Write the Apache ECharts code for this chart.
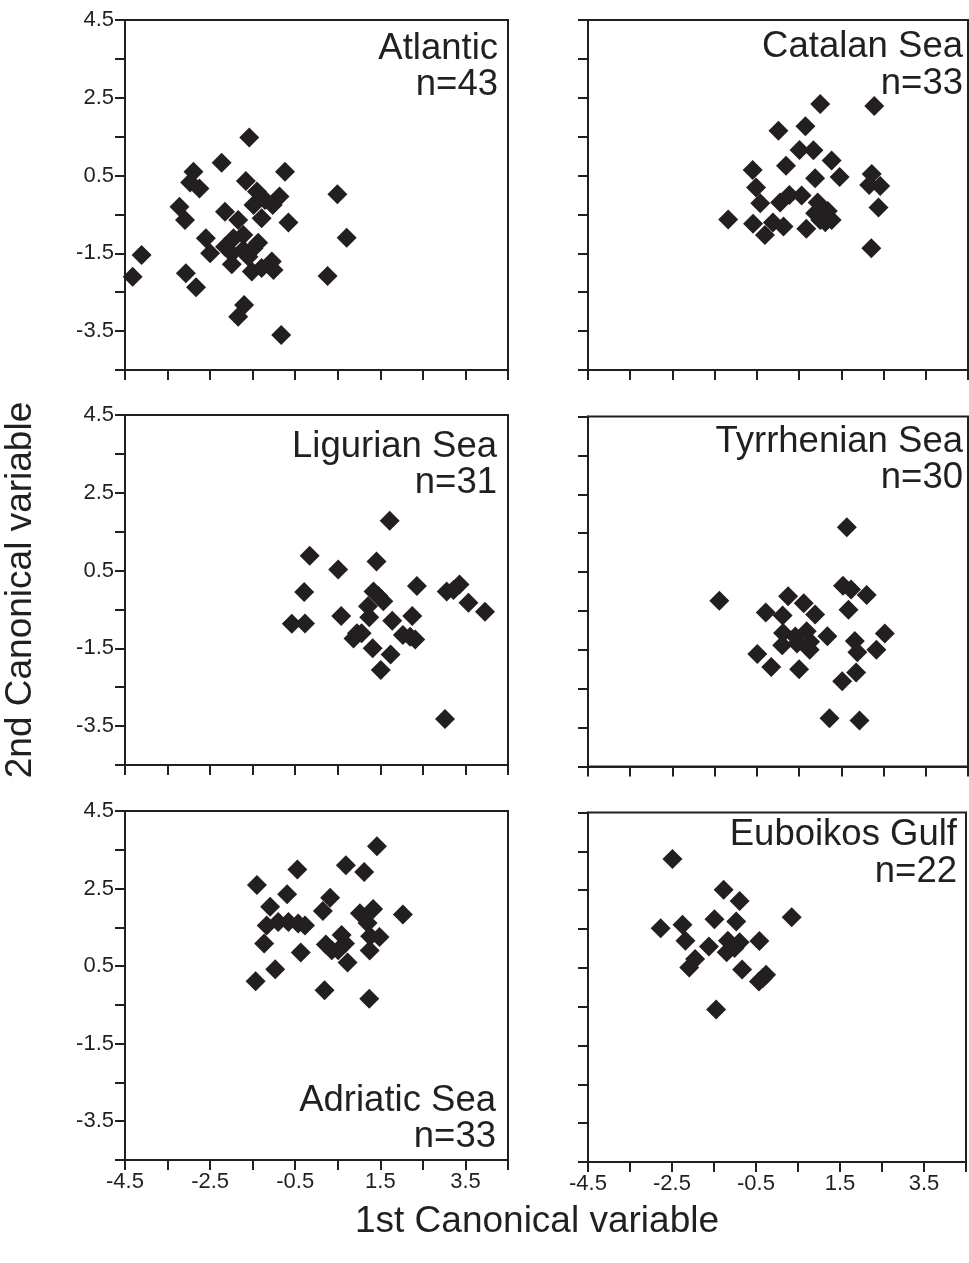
<!DOCTYPE html>
<html>
<head>
<meta charset="utf-8">
<script src="https://cdn.jsdelivr.net/npm/echarts@6/dist/echarts.min.js"></script>
<style>
html,body{margin:0;padding:0;background:#ffffff;}
#chart{width:969px;height:1263px;}
</style>
</head>
<body>
<div id="chart"></div>
<script>
// ---------------- data ----------------
const regions = ['Atlantic', 'Catalan Sea', 'Ligurian Sea', 'Tyrrhenian Sea', 'Adriatic Sea', 'Euboikos Gulf'];
const counts = [43, 33, 31, 30, 33, 22];

const atlantic = [
  [-1.58,1.48],[-2.23,0.83],[-0.74,0.60],[-2.89,0.60],[-2.97,0.32],[-2.75,0.17],[-1.66,0.36],[-1.40,0.09],[0.49,0.02],[-0.87,-0.04],
  [-1.03,-0.26],[-1.48,-0.26],[-3.22,-0.30],[-2.15,-0.43],[-1.29,-0.60],[-1.84,-0.64],[-3.09,-0.64],[-0.66,-0.71],[0.71,-1.10],[-2.60,-1.11],
  [-1.72,-1.03],[-1.95,-1.11],[-1.37,-1.23],[-2.15,-1.33],[-1.72,-1.41],[-1.48,-1.37],[-2.50,-1.50],[-4.11,-1.54],[-1.99,-1.50],[-1.05,-1.71],
  [-1.29,-1.88],[-1.01,-1.93],[-1.52,-1.97],[-1.99,-1.78],[-3.07,-2.01],[-4.32,-2.10],[0.26,-2.08],[-2.83,-2.37],[-1.70,-2.83],[-1.84,-3.13],
  [-0.83,-3.60],[-1.60,-1.59],[-1.21,-0.13]
];
const catalan = [
  [1.00,2.34],[2.28,2.29],[0.01,1.65],[0.65,1.77],[0.51,1.16],[0.84,1.15],[1.27,0.89],[0.19,0.75],[-0.60,0.64],[1.46,0.46],
  [0.88,0.43],[2.22,0.54],[2.16,0.26],[2.42,0.23],[-0.52,0.19],[2.38,-0.32],[-0.42,-0.21],[0.05,-0.19],[0.27,0.00],[0.56,-0.01],
  [0.94,-0.19],[1.18,-0.41],[0.88,-0.47],[1.12,-0.70],[-1.18,-0.63],[-0.59,-0.74],[-0.12,-0.71],[0.13,-0.81],[-0.31,-1.03],[0.67,-0.87],
  [2.21,-1.37],[1.27,-0.64],[1.00,-0.64]
];
const ligurian = [
  [1.72,1.78],[-0.16,0.88],[0.51,0.53],[1.41,0.73],[2.36,0.10],[3.06,-0.04],[3.36,0.14],[3.57,-0.33],[3.96,-0.56],[-0.29,-0.05],
  [1.34,-0.04],[1.57,-0.29],[1.21,-0.42],[0.58,-0.67],[1.24,-0.70],[1.78,-0.79],[2.25,-0.67],[-0.58,-0.87],[-0.27,-0.86],[0.87,-1.25],
  [1.06,-1.11],[2.03,-1.16],[2.32,-1.27],[1.32,-1.50],[1.74,-1.66],[1.51,-2.06],[3.02,-3.32],[1.45,-0.15],[3.22,0.00],[2.20,-1.20],
  [0.95,-1.11]
];
const tyrrhenian = [
  [1.63,1.65],[-1.39,-0.24],[0.24,-0.12],[0.61,-0.30],[0.88,-0.59],[-0.29,-0.54],[0.11,-0.62],[1.54,0.15],[1.73,0.05],[2.10,-0.09],
  [1.67,-0.47],[0.12,-1.07],[0.68,-1.02],[1.17,-1.15],[2.53,-1.08],[1.82,-1.27],[2.33,-1.50],[1.88,-1.56],[0.10,-1.38],[0.45,-1.34],
  [0.75,-1.50],[-0.49,-1.61],[-0.16,-1.94],[0.50,-2.00],[1.85,-2.08],[1.52,-2.31],[1.22,-3.26],[1.93,-3.32],[0.41,-1.16],[0.76,-1.29]
];
const adriatic = [
  [1.42,3.59],[0.69,3.10],[1.12,2.93],[-0.45,2.99],[-1.40,2.59],[-0.69,2.35],[0.32,2.26],[0.15,1.92],[-1.09,2.03],[-1.17,1.55],
  [-0.90,1.64],[-0.66,1.64],[-0.43,1.60],[-0.27,1.55],[1.02,1.86],[1.33,1.97],[1.20,1.61],[2.03,1.83],[0.59,1.30],[0.22,1.06],
  [0.51,0.91],[1.26,1.27],[1.48,1.25],[1.25,0.90],[0.73,0.59],[-1.23,1.08],[-0.37,0.85],[-0.97,0.42],[-1.43,0.11],[0.19,-0.12],
  [1.24,-0.34],[0.36,0.91],[0.67,1.08]
];
const euboikos = [
  [-2.49,3.30],[-1.27,2.51],[-0.89,2.22],[0.35,1.80],[-1.49,1.75],[-0.97,1.69],[-2.77,1.52],[-2.25,1.61],[-2.18,1.20],[-1.62,1.05],
  [-1.17,1.20],[-0.89,1.16],[-0.42,1.19],[-1.20,0.90],[-1.95,0.73],[-2.09,0.51],[-0.83,0.46],[-0.26,0.32],[-0.43,0.15],[-1.45,-0.57],
  [-1.01,1.01],[-0.34,0.23]
];

const xTickLabels = ['-4.5', '-2.5', '-0.5', '1.5', '3.5'];
const yTickLabels = ['4.5', '2.5', '0.5', '-1.5', '-3.5'];
const xAxisTitle = '1st Canonical variable';
const yAxisTitle = '2nd Canonical variable';

const seriesData = [atlantic, catalan, ligurian, tyrrhenian, adriatic, euboikos];

// ---------------- layout / style ----------------
const INK = '#231f20';
const FONT = "'Liberation Sans', Arial, Helvetica, sans-serif";

const gridBoxes = [
  {left: 125, top: 20,    width: 383, height: 350},
  {left: 588, top: 20,    width: 380, height: 350},
  {left: 125, top: 415,   width: 383, height: 350},
  {left: 588, top: 416.5, width: 380, height: 350},
  {left: 125, top: 811,   width: 383, height: 349},
  {left: 588, top: 812.5, width: 380, height: 349.5}
];
// region label: right edge, baselines of the two lines
const labelBoxes = [
  {x: 498, b1: 62,   b2: 98},
  {x: 963, b1: 60,   b2: 96.5},
  {x: 497, b1: 460,  b2: 496},
  {x: 963, b1: 455,  b2: 490.5},
  {x: 496, b1: 1114, b2: 1150},
  {x: 957, b1: 848,  b2: 885}
];

const TICK_FS = 22;
const PF = 36.5;
const TITLE_FS = 37;

const fmt = v => (Math.round(v * 10) / 10).toFixed(1);

const grids = [], xAxes = [], yAxes = [], series = [];
gridBoxes.forEach((g, i) => {
  const isLeft = i % 2 === 0;
  const isBottom = i >= 4;
  grids.push(Object.assign({
    show: true, borderColor: INK, borderWidth: 2, backgroundColor: 'transparent', containLabel: false
  }, g));
  xAxes.push({
    type: 'value', gridIndex: i, min: -4.5, max: 4.5, interval: 1,
    axisLine: {show: true, onZero: false, lineStyle: {color: INK, width: 2}},
    axisTick: {show: true, inside: false, length: 10, lineStyle: {color: INK, width: 2}},
    splitLine: {show: false},
    axisLabel: {
      show: isBottom, margin: 11, color: INK, fontSize: TICK_FS, fontFamily: FONT,
      showMinLabel: true, showMaxLabel: true,
      formatter: v => xTickLabels.includes(fmt(v)) ? fmt(v) : ''
    }
  });
  yAxes.push({
    type: 'value', gridIndex: i, min: -4.5, max: 4.5, interval: 1,
    axisLine: {show: true, onZero: false, lineStyle: {color: INK, width: 2}},
    axisTick: {show: true, inside: false, length: 10, lineStyle: {color: INK, width: 2}},
    splitLine: {show: false},
    axisLabel: {
      show: isLeft, margin: 11, color: INK, fontSize: TICK_FS, fontFamily: FONT,
      showMinLabel: true, showMaxLabel: true,
      formatter: v => yTickLabels.includes(fmt(v)) ? fmt(v) : ''
    }
  });
  series.push({
    type: 'scatter', name: regions[i], xAxisIndex: i, yAxisIndex: i,
    data: seriesData[i], symbol: 'diamond', symbolSize: 20,
    itemStyle: {color: INK, opacity: 1}, silent: true, animation: false
  });
});

function txt(x, y, text, size, align, rot) {
  return {
    type: 'text', x: x, y: y, rotation: rot || 0, silent: true,
    style: {
      text: text, font: size + 'px ' + FONT, fill: INK,
      textAlign: align, textVerticalAlign: 'middle', align: align, verticalAlign: 'middle'
    }
  };
}

const graphics = [];
labelBoxes.forEach((l, i) => {
  graphics.push(txt(l.x, l.b1 - 0.35 * PF, regions[i], PF, 'right'));
  graphics.push(txt(l.x, l.b2 - 0.35 * PF, 'n=' + counts[i], PF, 'right'));
});
graphics.push(txt(537, 1222, xAxisTitle, TITLE_FS, 'center'));
graphics.push(txt(21, 590, yAxisTitle, TITLE_FS, 'center', Math.PI / 2));

const chart = echarts.init(document.getElementById('chart'), null, {renderer: 'canvas'});
chart.setOption({
  animation: false,
  backgroundColor: '#ffffff',
  grid: grids,
  xAxis: xAxes,
  yAxis: yAxes,
  series: series,
  graphic: graphics
});
</script>
</body>
</html>
